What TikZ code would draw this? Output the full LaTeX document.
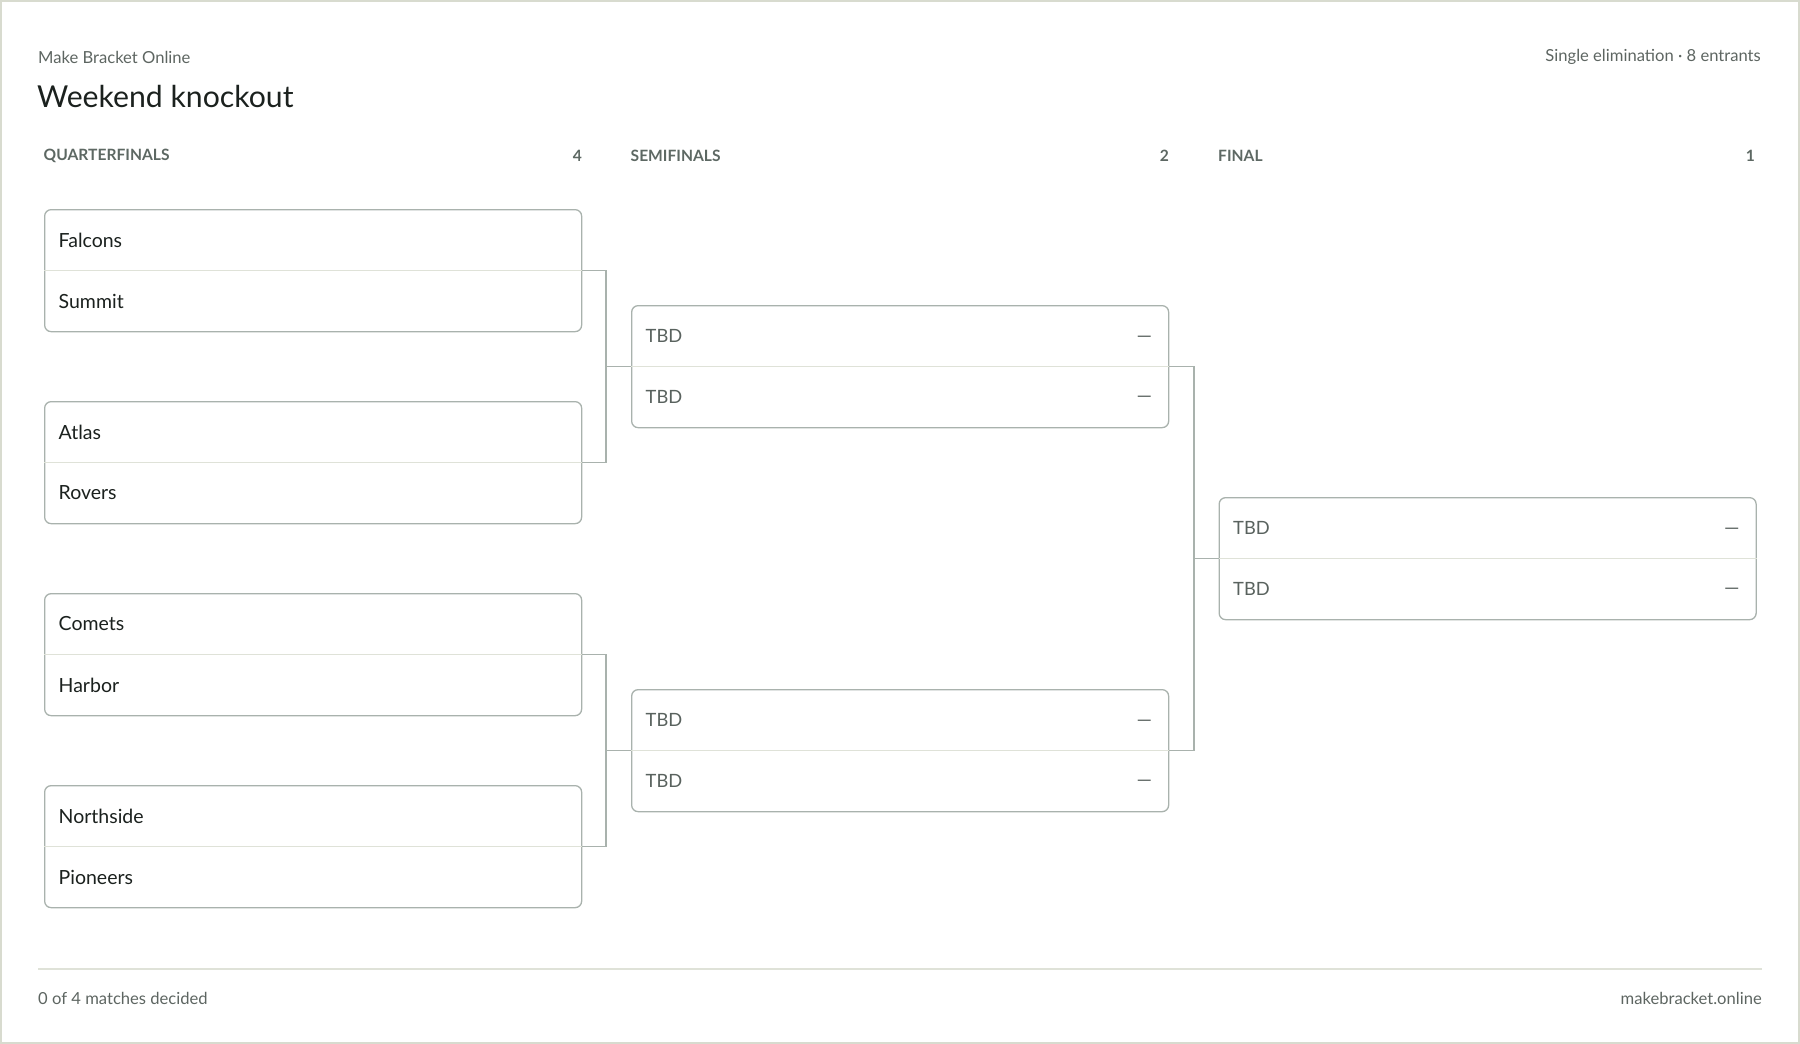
\documentclass[tikz,border=0pt]{standalone}
\usepackage{fontspec}
\setmainfont{Lato}
\usetikzlibrary{calc}
\definecolor{outerb}{HTML}{D8DBCF}
\definecolor{boxb}{HTML}{A9B2AD}
\definecolor{divl}{HTML}{DFE2D8}
\definecolor{headc}{HTML}{5D6863}
\definecolor{secc}{HTML}{5D6561}
\definecolor{teamc}{HTML}{1B211E}
\definecolor{tbdc}{HTML}{59625E}
\tikzset{
  matchbox/.style={draw=boxb, line width=1.3pt, rounded corners=6.5pt, fill=white,
    minimum width=537pt, minimum height=122pt, inner sep=0pt, anchor=north west},
  divider/.style={draw=divl, line width=1.3pt},
  conn/.style={draw=boxb, line width=1.3pt},
  team/.style={anchor=west, inner sep=0pt, text=teamc, font=\fontsize{19.5}{22}\selectfont},
  tbd/.style={anchor=west, inner sep=0pt, text=tbdc, font=\fontsize{18.3}{22}\selectfont},
  scoredash/.style={anchor=east, inner sep=0pt, text=tbdc, font=\fontsize{19.5}{22}\selectfont},
  roundhead/.style={inner sep=0pt, text=headc, font=\bfseries\fontsize{15.6}{18}\selectfont},
  small/.style={inner sep=0pt, text=secc, font=\fontsize{16.6}{19}\selectfont},
}
\begin{document}
\begin{tikzpicture}[x=1pt,y=-1pt]
\useasboundingbox (0,0) rectangle (1800,1044);
\draw[outerb, line width=2pt] (1,1) rectangle (1799,1043);

\node[small, anchor=west] (brand) at (38,57) {Make Bracket Online};
\node[small, anchor=east] (meta) at (1761,57) {Single elimination · 8 entrants};
\node[inner sep=0pt, anchor=west, text=teamc, font=\fontsize{30.2}{34}\selectfont] (title) at (37,96.5) {Weekend knockout};

\node[roundhead, anchor=west] (hq) at (43.5,155.5) {QUARTERFINALS};
\node[roundhead, anchor=east] (nq) at (582,155.5) {4};
\node[roundhead, anchor=west] (hs) at (630.5,155.5) {SEMIFINALS};
\node[roundhead, anchor=east] (ns) at (1169,155.5) {2};
\node[roundhead, anchor=west] (hf) at (1218,155.5) {FINAL};
\node[roundhead, anchor=east] (nf) at (1755,155.5) {1};

% quarterfinals
\foreach \n/\y/\a/\b in {q1/209/Falcons/Summit, q2/401/Atlas/Rovers, q3/593/Comets/Harbor, q4/785/Northside/Pioneers}{
  \node[matchbox] (\n) at (44,\y) {};
  \draw[divider] (\n.west) -- (\n.east);
  \node[team] (\n a) at ($(\n.north west)+(14.5,31)$) {\a};
  \node[team] (\n b) at ($(\n.north west)+(14.5,92)$) {\b};
}
% semifinals and final
\foreach \n/\x/\y in {s1/631/305, s2/631/689, f1/1218.5/497}{
  \node[matchbox] (\n) at (\x,\y) {};
  \draw[divider] (\n.west) -- (\n.east);
  \node[tbd] (\n a) at ($(\n.north west)+(14.5,31)$) {TBD};
  \node[tbd] (\n b) at ($(\n.north west)+(14.5,92)$) {TBD};
  \node[scoredash] (\n c) at ($(\n.north east)+(-17,34)$) {—};
  \node[scoredash] (\n d) at ($(\n.north east)+(-17,94)$) {—};
}

% connectors
\coordinate (j1) at ($(s1.west)+(-25,0)$);
\coordinate (j2) at ($(s2.west)+(-25,0)$);
\coordinate (j3) at ($(f1.west)+(-24.5,0)$);
\draw[conn] (q1.east) -| (j1) |- (q2.east);
\draw[conn] (j1) -- (s1.west);
\draw[conn] (q3.east) -| (j2) |- (q4.east);
\draw[conn] (j2) -- (s2.west);
\draw[conn] (s1.east) -| (j3) |- (s2.east);
\draw[conn] (j3) -- (f1.west);

% footer
\draw[divl, line width=1.5pt] (38,969) coordinate (fl) -- (1762,969) coordinate (fr);
\node[small, anchor=west] (done) at (38,998) {0 of 4 matches decided};
\node[small, anchor=east] (site) at (1762,998) {makebracket.online};
\end{tikzpicture}
\end{document}
